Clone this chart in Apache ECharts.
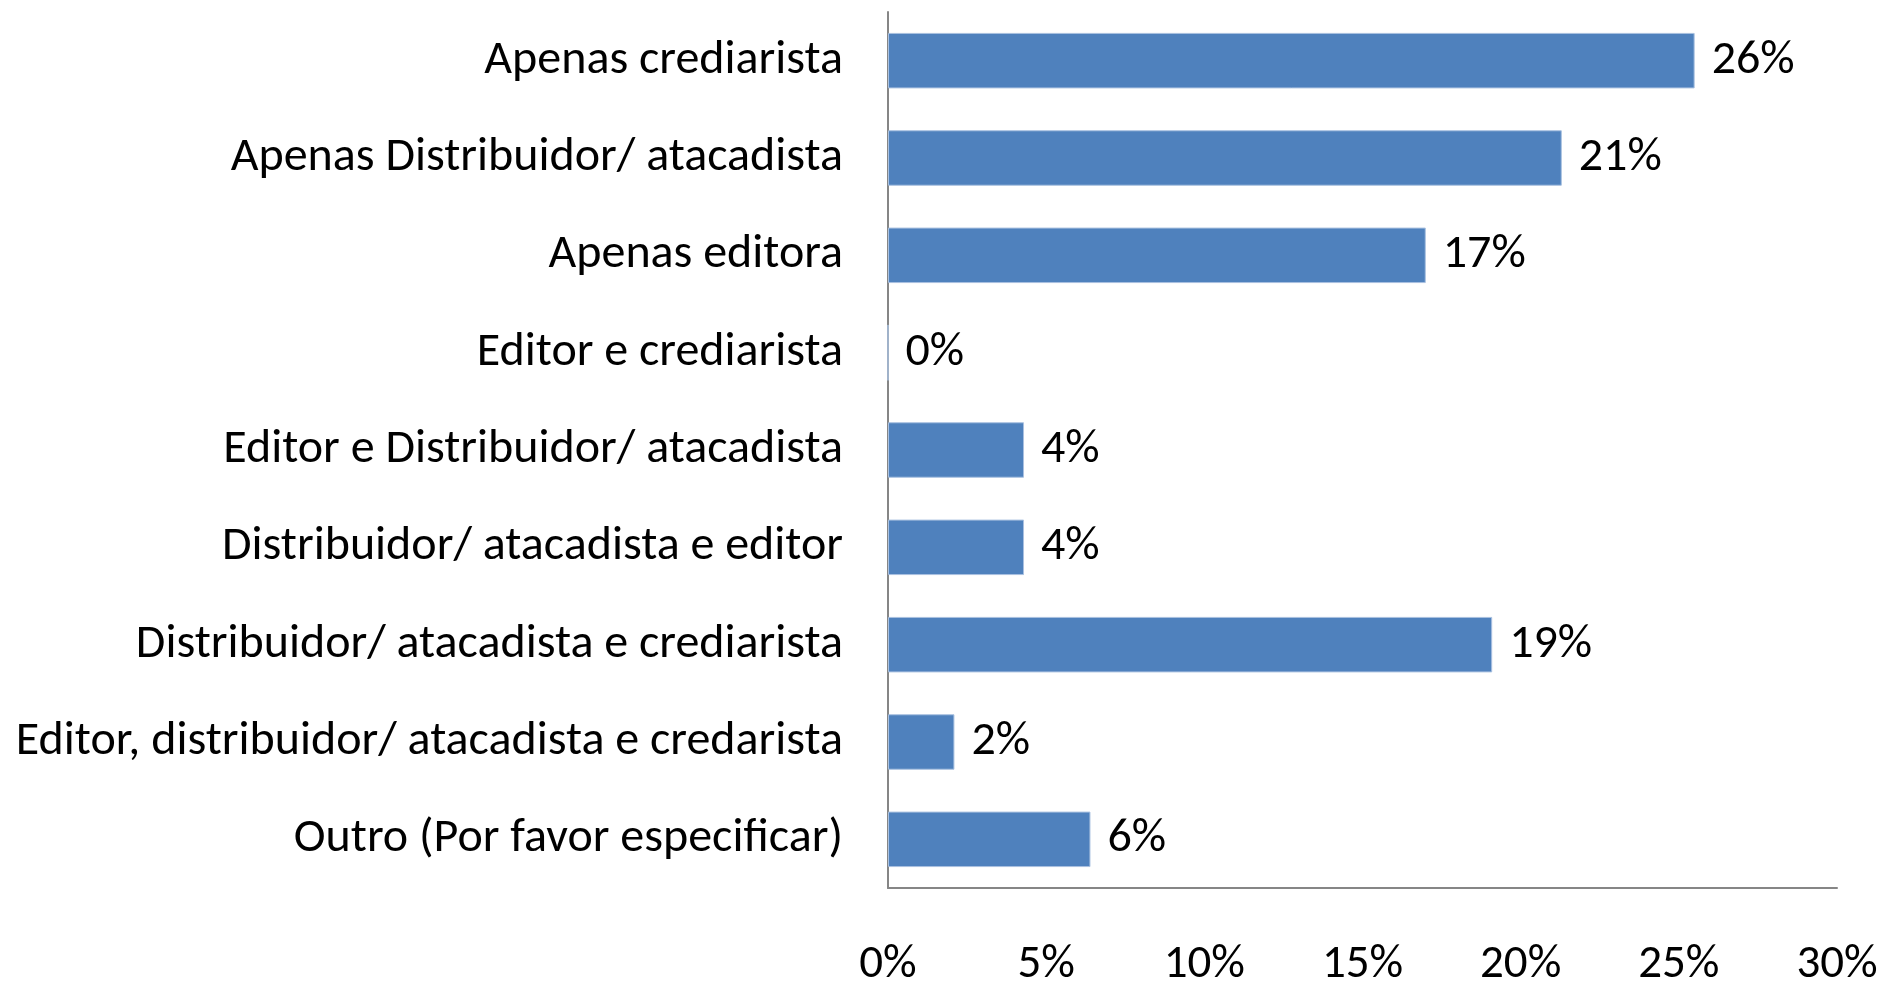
<!DOCTYPE html>
<html>
<head>
<meta charset="utf-8">
<script src="https://cdn.jsdelivr.net/npm/echarts@6/dist/echarts.min.js"></script>
<style>
html,body{margin:0;padding:0;background:#fff;}
#chart{width:1883px;height:989px;}
</style>
</head>
<body>
<div id="chart"></div>
<script>
const categories = [
  "Apenas crediarista",
  "Apenas Distribuidor/ atacadista",
  "Apenas editora",
  "Editor e crediarista",
  "Editor e Distribuidor/ atacadista",
  "Distribuidor/ atacadista e editor",
  "Distribuidor/ atacadista e crediarista",
  "Editor, distribuidor/ atacadista e credarista",
  "Outro (Por favor especificar)"
];
const values = [25.5, 21.3, 17.0, 0, 4.3, 4.3, 19.1, 2.1, 6.4];
const xTicks = [0, 5, 10, 15, 20, 25, 30];

const FONT = 'Carlito, Calibri, "Liberation Sans Narrow", "Liberation Sans", sans-serif';
const chart = echarts.init(document.getElementById('chart'));
chart.setOption({
  animation: false,
  backgroundColor: '#ffffff',
  grid: { left: 888, right: 46, top: 12, bottom: 93, containLabel: false },
  xAxis: {
    type: 'value',
    min: xTicks[0],
    max: xTicks[xTicks.length - 1],
    interval: 5,
    axisLine: { show: true, lineStyle: { color: '#868686', width: 2 } },
    axisTick: { show: false },
    splitLine: { show: false },
    axisLabel: {
      margin: 54,
      color: '#000',
      fontFamily: FONT,
      fontSize: 47,
      formatter: v => v + '%'
    }
  },
  yAxis: {
    type: 'category',
    data: categories,
    inverse: true,
    axisLine: { show: true, lineStyle: { color: '#868686', width: 2 } },
    axisTick: { show: false },
    axisLabel: {
      margin: 45,
      color: '#000',
      fontFamily: FONT,
      fontSize: 48,
      padding: [8, 0, 0, 0]
    }
  },
  series: [{
    type: 'bar',
    data: values,
    barCategoryGap: '43%',
    itemStyle: { color: '#4F81BD', borderColor: '#A9C1E0', borderWidth: 1 },
    label: {
      show: true,
      position: 'right',
      distance: 17,
      color: '#000',
      fontFamily: FONT,
      fontSize: 48,
      padding: [8, 0, 0, 0],
      formatter: p => Math.round(p.value) + '%'
    }
  }]
});
</script>
</body>
</html>
